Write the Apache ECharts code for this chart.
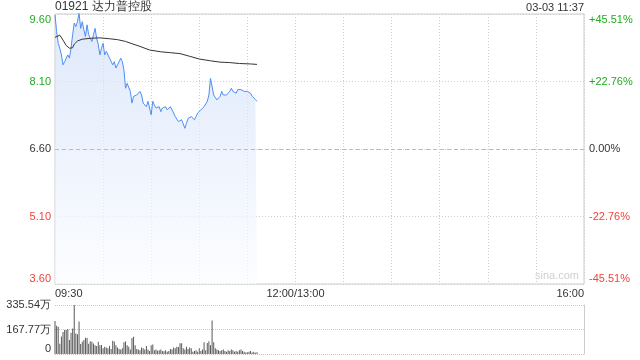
<!DOCTYPE html>
<html>
<head>
<meta charset="utf-8">
<script src="https://cdn.jsdelivr.net/npm/echarts@6/dist/echarts.min.js"></script>
<style>html,body{margin:0;padding:0;background:#fff}#c{width:640px;height:360px}</style>
</head>
<body>
<div id="c"></div>
<script>
// ---- data ----
const stockTitle = '01921 达力普控股';
const stampText = '03-03 11:37';
const prevClose = 6.60;
// per-minute price from 09:30 (minute index 0)
const priceValues = [
 9.58,9.21,8.95,8.84,8.69,8.47,8.54,8.62,8.69,8.62,
 8.84,9.14,9.40,9.32,9.43,9.62,9.28,9.43,9.25,9.10,
 9.36,9.14,9.06,8.99,9.14,9.28,9.06,8.92,8.69,8.84,
 8.95,8.69,8.77,8.73,8.62,8.58,8.47,8.54,8.40,8.47,
 8.54,8.62,8.54,8.36,7.95,8.06,8.06,7.88,7.62,7.77,
 7.77,7.80,7.80,7.88,7.80,7.62,7.66,7.54,7.66,7.51,
 7.36,7.66,7.58,7.51,7.47,7.54,7.43,7.51,7.47,7.54,
 7.47,7.51,7.54,7.54,7.40,7.32,7.28,7.21,7.17,7.25,
 7.28,7.06,7.17,7.28,7.25,7.32,7.28,7.25,7.32,7.40,
 7.40,7.47,7.51,7.54,7.58,7.66,7.80,8.17,8.14,7.80,
 7.84,7.69,7.69,7.77,7.88,7.80,7.84,7.80,7.77,7.88,
 7.95,7.88,7.92,7.84,7.92,7.88,7.92,7.88,7.88,7.84,
 7.88,7.88,7.84,7.77,7.73,7.70,7.66
];
// average price line, read at these minutes
const avgMinutes = [0,1,3,5,7,9,11,12,14,17,22,28,34,39,44,48,53,59,66,72,78,84,90,97,103,109,115,122,126];
const avgValues  = [9.08,9.12,9.13,9.02,8.90,8.84,8.85,8.93,9.00,9.04,9.06,9.07,9.05,9.03,8.99,8.94,8.88,8.80,8.76,8.74,8.72,8.66,8.60,8.56,8.53,8.52,8.50,8.49,8.48];
// per-minute volume (万)
const volumeValues = [
 226,194,187,70,120,150,165,165,172,96,
 145,175,335,140,135,222,68,84,96,112,
 110,70,88,84,72,60,55,84,60,62,
 40,50,45,40,55,35,90,85,60,45,
 35,30,40,80,85,60,50,30,110,118,
 60,35,30,25,45,40,30,55,30,20,
 60,65,25,30,22,25,30,20,18,25,
 15,20,35,30,45,40,50,48,73,73,
 40,30,50,35,45,40,15,20,25,15,
 40,20,30,80,25,75,88,60,230,80,
 40,30,25,20,25,30,20,15,25,20,
 30,25,15,20,15,25,30,20,15,10,
 12,15,20,10,15,8,12
];
const xTickLabels = {0:'09:30', 150:'12:00/13:00', 330:'16:00'};
const priceTicks = ['3.60','5.10','6.60','8.10','9.60'];
const pctTicks = ['-45.51%','-22.76%','0.00%','+22.76%','+45.51%'];
const volTicks = ['0','167.77万','335.54万'];

// ---- chart ----
const GREEN = '#22aa22', RED = '#f5413a', DARK = '#333';
const FONT = 'Liberation Sans, Arial, sans-serif';
const chart = echarts.init(document.getElementById('c'), null, {renderer:'canvas'});
const lvColor = (i) => i < 2 ? RED : (i === 2 ? DARK : GREEN);

chart.setOption({
  animation: false,
  title: [
    {text: stockTitle, left: 55, top: 1, padding: 0, textStyle:{fontSize:12, fontWeight:'normal', color:'#333', fontFamily:FONT}},
    {text: stampText, right: 56, top: 2, padding: 0, textStyle:{fontSize:11, fontWeight:'normal', color:'#333', fontFamily:FONT}}
  ],
  graphic: [{type:'text', right: 61, top: 270, style:{text:'sina.com', fill:'#d0d0d0', font:'11px ' + FONT}}],
  grid: [
    {left:55, right:56, top:14, height:270, show:true, borderColor:'#ccc', borderWidth:1, backgroundColor:'transparent'},
    {left:55, right:56, top:305, height:49, show:false}
  ],
  xAxis: [
    {gridIndex:0, type:'value', min:0, max:330, interval:30,
     axisLine:{show:false}, axisTick:{show:false},
     splitLine:{show:true, lineStyle:{color:'#cfcfcf', type:[1,2], width:1}},
     axisLabel:{show:true, margin:4, fontSize:11, color:'#333', fontFamily:FONT,
       alignMinLabel:'left', alignMaxLabel:'right',
       formatter:(v)=> xTickLabels[v] !== undefined ? xTickLabels[v] : ''}},
    {gridIndex:1, type:'value', min:0, max:330, interval:30,
     axisLine:{show:false}, axisTick:{show:false}, axisLabel:{show:false}, splitLine:{show:false}}
  ],
  yAxis: [
    {gridIndex:0, type:'value', min:3.6, max:9.6, interval:1.5, position:'left',
     axisLine:{show:false}, axisTick:{show:false},
     splitLine:{show:true, lineStyle:{color:'#cfcfcf', type:[1,2]}},
     axisLabel:{margin:4, fontSize:11, fontFamily:FONT,
       verticalAlignMinLabel:'bottom', verticalAlignMaxLabel:'top',
       formatter:(v, i)=> priceTicks[i], color:(v, i)=> lvColor(i)}},
    {gridIndex:0, type:'value', min:-45.51, max:45.51, interval:22.755, position:'right',
     axisLine:{show:false}, axisTick:{show:false}, splitLine:{show:false},
     axisLabel:{margin:5, fontSize:11, fontFamily:FONT,
       verticalAlignMinLabel:'bottom', verticalAlignMaxLabel:'top',
       formatter:(v, i)=> pctTicks[i], color:(v, i)=> lvColor(i)}},
    {gridIndex:1, type:'value', min:0, max:335.54, interval:167.77, position:'left',
     axisLine:{show:false}, axisTick:{show:false},
     splitLine:{show:true, lineStyle:{color:'#c8c8c8', type:[1,1]}},
     axisLabel:{margin:4, fontSize:11, fontFamily:FONT, color:'#333',
       verticalAlignMinLabel:'bottom',
       formatter:(v, i)=> volTicks[i]}},
    {gridIndex:1, type:'value', min:0, max:335.54, position:'right',
     axisLine:{show:true, lineStyle:{color:'#ccc'}}, axisTick:{show:false},
     axisLabel:{show:false}, splitLine:{show:false}}
  ],
  series: [
    {type:'line', xAxisIndex:0, yAxisIndex:0, symbol:'none',
     data: priceValues.map((v,i)=>[i,v]),
     lineStyle:{color:'#4f8ef0', width:1},
     areaStyle:{color:new echarts.graphic.LinearGradient(0,0,0,1,[{offset:0,color:'#cfdef8'},{offset:1,color:'#fbfcff'}])},
     markLine:{silent:true, symbol:'none', label:{show:false},
       lineStyle:{color:'#bbb', type:[4,3], width:1},
       data:[{yAxis:prevClose}]}},
    {type:'line', xAxisIndex:0, yAxisIndex:0, symbol:'none',
     data: avgMinutes.map((m,i)=>[m, avgValues[i]]),
     lineStyle:{color:'#333', width:1}},
    {type:'bar', xAxisIndex:1, yAxisIndex:2, barWidth:1,
     data: volumeValues.map((v,i)=>[i,v]),
     itemStyle:{color:'#595959'}}
  ]
});
</script>
</body>
</html>
